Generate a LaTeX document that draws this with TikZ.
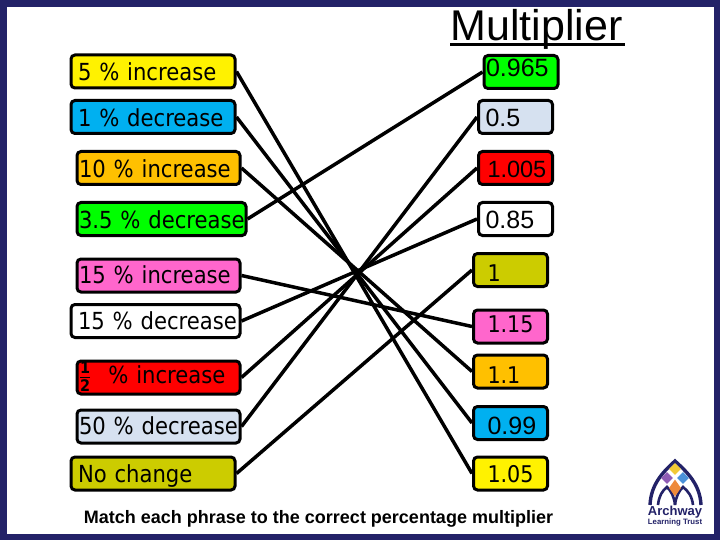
\documentclass[tikz,border=0pt]{standalone}
\usepackage{fontspec}
\usetikzlibrary{shapes.geometric}
\setmainfont{Liberation Sans}
\newfontfamily\handfont{DejaVu Sans Condensed}
\newcommand{\halfdigit}[1]{\mbox{\fontsize{16}{16}\selectfont\bfseries #1}}
\definecolor{framenavy}{HTML}{232268}
\definecolor{paleblue}{HTML}{D6E1F0}
\definecolor{skyblue}{HTML}{00B0F0}
\definecolor{amber}{HTML}{FFC000}
\definecolor{hotpink}{HTML}{FF66CC}
\definecolor{olive}{HTML}{CCCC00}
\definecolor{logopurple}{HTML}{8E5BB5}
\definecolor{logoblue}{HTML}{4A90D9}
\definecolor{logoorange}{HTML}{EE8A3A}
\definecolor{logoyellow}{HTML}{F2C935}
\tikzset{
	box/.style={draw,rounded corners=4pt,line width=3pt,minimum height=33pt,inner ysep=0pt,inner xsep=2pt,align=left,text height=24pt,text depth=5pt},
	phrase/.style={box,font=\handfont\fontsize{23.5}{26}\selectfont},
	factor/.style={box,font=\fontsize{25}{28}\selectfont},
	handfactor/.style={box,font=\handfont\fontsize{23}{26}\selectfont,inner xsep=14pt},
	link/.style={line width=3.5pt},
	tile/.style={diamond,minimum size=11pt,inner sep=0pt},
	arch/.style={framenavy,line width=2.6pt}
}
\begin{document}
\begin{tikzpicture}[x=1pt,y=-1pt]
	\useasboundingbox (0,0) rectangle (720,540);
	\fill[framenavy] (0,0) rectangle (720,540);
	\fill[white] (7,7) rectangle (714,534);
	\node[font=\fontsize{43}{46}\selectfont,inner sep=0pt,text height=32pt,text depth=0pt] (title) at (536.5,25) {\rlap{\rule[-5.5pt]{175pt}{3pt}}Multiplier};
	% phrases
	\node[phrase,fill=yellow,inner xsep=7pt,text width=150pt] (p1) at (153,71.5) {5 \% increase};
	\node[phrase,fill=skyblue,inner xsep=7pt,text width=150pt] (p2) at (153,117) {\mbox{1 \% decrease}};
	\node[phrase,fill=amber,text width=159pt] (p3) at (158.5,168) {10 \% increase};
	\node[phrase,fill=green,text width=165pt] (p4) at (161.5,219) {\mbox{3.5 \% decrease}};
	\node[phrase,fill=hotpink,text width=159pt,text depth=9pt] (p5) at (158.5,275.5) {15 \% increase};
	\node[phrase,fill=white,inner xsep=7pt,text width=155pt,text depth=8pt] (p6) at (155.5,321) {\mbox{15 \% decrease}};
	\node[phrase,fill=red,text width=159pt,text height=18pt,text depth=7pt] (p7) at (158.5,377.5) {$\frac{\halfdigit{1}}{\halfdigit{2}}$\hspace{17pt}\% increase};
	\node[phrase,fill=paleblue,text width=159pt,text depth=9pt] (p8) at (158.5,426.5) {\mbox{50 \% decrease}};
	\node[phrase,fill=olive,inner xsep=7pt,text width=150pt,text depth=7pt] (p9) at (153,473.5) {No change};
	% multipliers
	\node[factor,fill=green,text width=70pt,text height=18pt,text depth=8pt] (m1) at (521,72) {0.965};
	\node[factor,fill=paleblue,inner xsep=7pt,text width=60pt,text depth=4pt] (m2) at (515.5,117) {0.5};
	\node[factor,fill=red,inner xsep=9pt,text width=56pt,text depth=4pt,font=\fontsize{23.5}{28}\selectfont] (m3) at (515.5,168) {1.005};
	\node[factor,fill=white,inner xsep=7pt,text width=60pt,text depth=4pt] (m4) at (515.5,219) {0.85};
	\node[handfactor,fill=olive,text width=46pt,text depth=1pt] (m5) at (510.5,270) {1};
	\node[handfactor,fill=hotpink,text width=46pt,text height=18pt,text depth=7pt] (m6) at (510.5,326.5) {1.15};
	\node[handfactor,fill=amber,text width=46pt,text depth=1pt] (m7) at (510.5,371.5) {1.1};
	\node[factor,fill=skyblue,inner xsep=14pt,text width=46pt,text depth=2pt] (m8) at (510.5,423) {0.99};
	\node[handfactor,fill=yellow,text width=46pt,text depth=7pt] (m9) at (510.5,473.5) {1.05};
	% matches
	\draw[link] (p1.east) -- (m9.west);
	\draw[link] (p2.east) -- (m8.west);
	\draw[link] (p3.east) -- (m7.west);
	\draw[link] (p4.east) -- (m1.west);
	\draw[link] (p5.east) -- (m6.west);
	\draw[link] (p6.east) -- (m4.west);
	\draw[link] (p7.east) -- (m3.west);
	\draw[link] (p8.east) -- (m2.west);
	\draw[link] (p9.east) -- (m5.west);
	\node[font=\bfseries\fontsize{18}{20}\selectfont,inner sep=0pt] (hint) at (318.5,519) {Match each phrase to the correct percentage multiplier};
	% logo
	\draw[arch,line width=3.4pt] (650,505) .. controls (651,484) and (663,472) .. (675,461) .. controls (687,472) and (700,484) .. (701,505);
	\draw[arch] (658,505) .. controls (659,496) and (662,491) .. (667,487) .. controls (671,491) and (674,496) .. (675,505);
	\draw[arch] (675,505) .. controls (676,496) and (679,491) .. (683,487) .. controls (688,491) and (692,496) .. (693,505);
	\node[tile,fill=logoyellow,minimum size=12pt] (ty) at (675,469) {};
	\node[tile,fill=logopurple,minimum size=12pt] (tp) at (667,478) {};
	\node[tile,fill=logoblue,minimum size=12pt] (tb) at (683,478) {};
	\node[tile,fill=logoorange,minimum height=17pt,minimum width=12pt] (to) at (675,488) {};
	\node[font=\bfseries\fontsize{13}{14}\selectfont,text=framenavy,inner sep=0pt] (archway) at (675,512) {Archway};
	\node[font=\bfseries\fontsize{7.8}{9}\selectfont,text=framenavy,inner sep=0pt] (trust) at (675,522.5) {Learning Trust};
\end{tikzpicture}
\end{document}
